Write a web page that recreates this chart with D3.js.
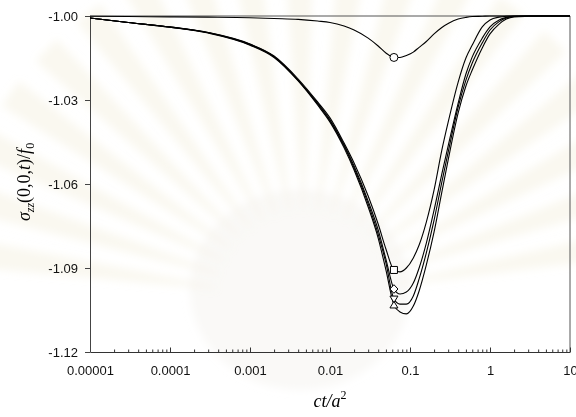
<!DOCTYPE html>
<html>
<head>
<meta charset="utf-8">
<script src="https://cdn.jsdelivr.net/npm/d3@7"></script>
<style>
  html, body { margin: 0; padding: 0; background: #fff; }
  svg { display: block; }
</style>
</head>
<body>
<svg id="chart" width="576" height="417"></svg>
<script>
// Dimensionless time ct/a^2 (log scale) at which each stress curve is sampled
const timeValues = [0.00001, 0.00003, 0.0001, 0.0003, 0.001, 0.002, 0.004, 0.007, 0.01, 0.015,
  0.02, 0.03, 0.04, 0.05, 0.063, 0.075, 0.09, 0.11, 0.13, 0.16,
  0.2, 0.25, 0.3, 0.4, 0.5, 0.6, 0.8, 1.0, 1.3, 1.6,
  2, 3, 5, 10];

// Normalised stress sigma_zz(0,0,t)/f0 for each case
const stressCircle = [-1.0001, -1.0002, -1.0003, -1.0004, -1.0006, -1.0009, -1.0012, -1.0018, -1.0023, -1.0036,
  -1.0050, -1.0079, -1.0107, -1.0132, -1.0148, -1.0148, -1.0141, -1.0129, -1.0112, -1.0091,
  -1.0064, -1.0041, -1.0027, -1.0011, -1.0005, -1.0002, -1.0001, -1.0000, -1.0000, -1.0000,
  -1.0000, -1.0000, -1.0000, -1.0000];
const stressSquare = [-1.0007, -1.0023, -1.0039, -1.0059, -1.0100, -1.0143, -1.0225, -1.0307, -1.0364, -1.0454,
  -1.0525, -1.0643, -1.0743, -1.0832, -1.0907, -1.0914, -1.0900, -1.0864, -1.0818, -1.0736,
  -1.0621, -1.0479, -1.0379, -1.0236, -1.0150, -1.0104, -1.0039, -1.0014, -1.0004, -1.0001,
  -1.0000, -1.0000, -1.0000, -1.0000];
const stressDiamond = [-1.0007, -1.0023, -1.0039, -1.0059, -1.0101, -1.0145, -1.0229, -1.0311, -1.0371, -1.0461,
  -1.0536, -1.0661, -1.0764, -1.0868, -1.0975, -1.0993, -1.0986, -1.0954, -1.0900, -1.0811,
  -1.0693, -1.0564, -1.0464, -1.0311, -1.0207, -1.0146, -1.0079, -1.0039, -1.0014, -1.0005,
  -1.0001, -1.0000, -1.0000, -1.0000];
const stressTriDown = [-1.0007, -1.0023, -1.0040, -1.0060, -1.0103, -1.0146, -1.0230, -1.0314, -1.0375, -1.0464,
  -1.0543, -1.0671, -1.0779, -1.0882, -1.1011, -1.1029, -1.1029, -1.1000, -1.0939, -1.0846,
  -1.0729, -1.0593, -1.0486, -1.0325, -1.0229, -1.0168, -1.0096, -1.0050, -1.0020, -1.0007,
  -1.0002, -1.0000, -1.0000, -1.0000];
const stressTriUp = [-1.0007, -1.0023, -1.0040, -1.0061, -1.0104, -1.0148, -1.0232, -1.0318, -1.0379, -1.0471,
  -1.0550, -1.0682, -1.0793, -1.0907, -1.1032, -1.1057, -1.1064, -1.1036, -1.0982, -1.0889,
  -1.0771, -1.0629, -1.0514, -1.0346, -1.0250, -1.0193, -1.0114, -1.0064, -1.0029, -1.0011,
  -1.0003, -1.0001, -1.0000, -1.0000];

const seriesNames = ["circle", "square", "diamond", "triangleDown", "triangleUp"];
const seriesValues = [stressCircle, stressSquare, stressDiamond, stressTriDown, stressTriUp];

// Symbols sit at this time on every curve
const markerTime = 0.063;

// Axis ticks
const xTicks = [0.00001, 0.0001, 0.001, 0.01, 0.1, 1, 10];
const xTickLabels = ["0.00001", "0.0001", "0.001", "0.01", "0.1", "1", "10"];
const yTicks = [-1.00, -1.03, -1.06, -1.09, -1.12];
const yTickLabels = ["-1.00", "-1.03", "-1.06", "-1.09", "-1.12"];

const svg = d3.select("#chart");
const plotLeft = 90, plotRight = 570, plotTop = 16, plotBottom = 352;

const x = d3.scaleLog().domain([0.00001, 10]).range([plotLeft, plotRight]);
const y = d3.scaleLinear().domain([-1.12, -1.00]).range([plotBottom, plotTop]);

// Faint emblem backdrop: fan of soft rays and a pale body
const defs = svg.append("defs");
defs.append("filter").attr("id", "soft").attr("x", "-20%").attr("y", "-20%")
  .attr("width", "140%").attr("height", "140%")
  .append("feGaussianBlur").attr("stdDeviation", 4);
const emblem = svg.append("g").attr("filter", "url(#soft)");
const cx = 305, cy = 300;
d3.range(-172, -8, 9).forEach(a => {
  const r0 = 90, r1 = 360, half = 2.4 * Math.PI / 180;
  const t = a * Math.PI / 180;
  const p = [
    [cx + r0 * Math.cos(t - half * 0.4), cy + r0 * Math.sin(t - half * 0.4)],
    [cx + r1 * Math.cos(t - half), cy + r1 * Math.sin(t - half)],
    [cx + r1 * Math.cos(t + half), cy + r1 * Math.sin(t + half)],
    [cx + r0 * Math.cos(t + half * 0.4), cy + r0 * Math.sin(t + half * 0.4)]
  ];
  emblem.append("path").attr("d", "M" + p.join("L") + "Z")
    .attr("fill", "#f0e8cc").attr("opacity", 0.3);
});
emblem.append("ellipse").attr("cx", 300).attr("cy", 290).attr("rx", 110).attr("ry", 100)
  .attr("fill", "#eeece5").attr("opacity", 0.3);

// Frame (top and right edges)
svg.append("path")
  .attr("d", `M${plotLeft},${plotTop}H${plotRight}V${plotBottom}`)
  .attr("fill", "none").attr("stroke", "#555").attr("stroke-width", 1);

// Minor ticks on the log axis
const minorTicks = [];
for (let e = -5; e < 1; e++) for (let m = 2; m <= 9; m++) minorTicks.push(m * Math.pow(10, e));

const font = "'Liberation Sans', Arial, sans-serif";

svg.append("g").attr("transform", `translate(0,${plotBottom})`)
  .call(d3.axisBottom(x).tickValues(minorTicks).tickSize(-2.5).tickFormat(""))
  .call(g => g.select(".domain").remove())
  .call(g => g.selectAll("line").attr("stroke", "#333"));

const xAxis = svg.append("g").attr("transform", `translate(0,${plotBottom})`)
  .call(d3.axisBottom(x).tickValues(xTicks).tickSizeInner(-4.5).tickSizeOuter(0).tickPadding(14)
    .tickFormat((d, i) => xTickLabels[i]));
xAxis.select(".domain").attr("stroke", "#333");
xAxis.selectAll("line").attr("stroke", "#333");
xAxis.selectAll("text").attr("font-family", font).attr("font-size", 13).attr("fill", "#111");

const yAxis = svg.append("g").attr("transform", `translate(${plotLeft},0)`)
  .call(d3.axisLeft(y).tickValues(yTicks).tickSizeInner(5).tickSizeOuter(0).tickPadding(7)
    .tickFormat((d, i) => yTickLabels[i]));
yAxis.select(".domain").attr("stroke", "#444");
yAxis.selectAll("line").attr("stroke", "#444");
yAxis.selectAll("text").attr("font-family", font).attr("font-size", 13).attr("fill", "#111");

// Curves
const line = d3.line().x(d => x(d[0])).y(d => y(d[1])).curve(d3.curveMonotoneX);
seriesValues.forEach(vals => {
  svg.append("path")
    .datum(timeValues.map((t, i) => [t, vals[i]]))
    .attr("d", line)
    .attr("fill", "none").attr("stroke", "#000").attr("stroke-width", 1.1);
});

// Symbols
function symbolPath(name) {
  switch (name) {
    case "circle": return "M4,0A4,4 0 1,1 -4,0A4,4 0 1,1 4,0Z";
    case "square": return "M-3.5,-3.5H3.5V3.5H-3.5Z";
    case "diamond": return "M0,-4.3L4,0L0,4.3L-4,0Z";
    case "triangleDown": return "M-4,-3L4,-3L0,3.6Z";
    case "triangleUp": return "M0,-3.6L4,3L-4,3Z";
  }
}
const mi = timeValues.indexOf(markerTime);
seriesNames.forEach((name, k) => {
  svg.append("path")
    .attr("d", symbolPath(name))
    .attr("transform", `translate(${x(markerTime)},${y(seriesValues[k][mi])})`)
    .attr("fill", "#fff").attr("stroke", "#000").attr("stroke-width", 1);
});

// Axis titles
const serif = "'Liberation Serif', 'Times New Roman', serif";
const yTitle = svg.append("text")
  .attr("transform", `translate(30,182) rotate(-90)`)
  .attr("text-anchor", "middle")
  .attr("font-family", serif).attr("font-size", 18);
yTitle.append("tspan").attr("font-style", "italic").text("σ");
yTitle.append("tspan").attr("font-style", "italic").attr("font-size", 12).attr("dy", 4).text("zz");
yTitle.append("tspan").attr("dy", -4).text("(0,0,");
yTitle.append("tspan").attr("font-style", "italic").text("t");
yTitle.append("tspan").text(")/");
yTitle.append("tspan").attr("font-style", "italic").text("f");
yTitle.append("tspan").attr("font-size", 12).attr("dy", 4).text("0");

const xTitle = svg.append("text")
  .attr("x", 330).attr("y", 407)
  .attr("text-anchor", "middle")
  .attr("font-family", serif).attr("font-size", 18);
xTitle.append("tspan").attr("font-style", "italic").text("ct/a");
xTitle.append("tspan").attr("font-size", 12).attr("dy", -8).text("2");
</script>
</body>
</html>
